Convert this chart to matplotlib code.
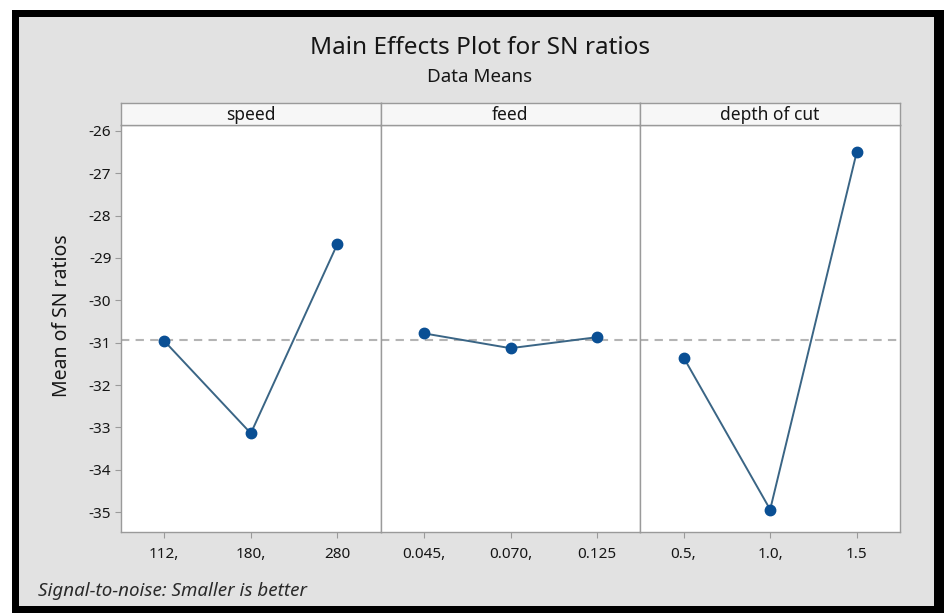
import matplotlib
matplotlib.use("Agg")
import matplotlib.pyplot as plt
from matplotlib.patches import Rectangle

plt.rcParams['font.family'] = ['Noto Sans', 'DejaVu Sans']

factors = ["speed", "feed", "depth of cut"]
level_labels = [["112,", "180,", "280"],
                ["0.045,", "0.070,", "0.125"],
                ["0.5,", "1.0,", "1.5"]]
speed_sn = [-30.96, -33.14, -28.67]
feed_sn = [-30.78, -31.13, -30.87]
depth_sn = [-31.35, -34.94, -26.50]
series = [speed_sn, feed_sn, depth_sn]
overall_mean = -30.93
yticks = [-26, -27, -28, -29, -30, -31, -32, -33, -34, -35]

W, H = 944, 613
fig = plt.figure(figsize=(W / 100, H / 100), dpi=100)
fig.patch.set_facecolor("white")

def fx(px):
    return px / W

def fy(py):
    return 1 - py / H

# black frame and gray background
fig.patches.append(Rectangle((fx(12), fy(613)), fx(944 - 12), 613 / H - 10 / H,
                             transform=fig.transFigure, facecolor="black",
                             edgecolor="none", zorder=-10))
fig.patches.append(Rectangle((fx(19), fy(606)), fx(934 - 19), (606 - 17) / H,
                             transform=fig.transFigure, facecolor="#e2e2e2",
                             edgecolor="none", zorder=-9))

left_px, right_px = 121, 900
top_px, bot_px = 125, 532
strip_top = 103
pw = (right_px - left_px) / 3

spine_col = "#9a9a9a"
txt_col = "#161616"
for i, (name, labels, vals) in enumerate(zip(factors, level_labels, series)):
    x0 = left_px + i * pw
    ax = fig.add_axes([fx(x0), fy(bot_px), fx(pw), (bot_px - top_px) / H])
    ax.set_facecolor("white")
    xs = list(range(1, len(vals) + 1))
    ax.axhline(overall_mean, color="#b4b4b4", linestyle=(0, (4, 3)), linewidth=1.5, zorder=1)
    ax.plot(xs, vals, color="#3a6585", linewidth=1.4, zorder=2)
    ax.plot(xs, vals, linestyle="none", marker="o", markersize=7.5,
            color="#0a4f94", markeredgecolor="#0a4f94", zorder=3)
    ax.set_xlim(0.5, 3.5)
    ax.set_ylim(-35.47, -25.86)
    ax.set_xticks(xs)
    ax.set_xticklabels(labels, fontsize=11, color=txt_col)
    ax.tick_params(axis="x", length=4, color=spine_col, pad=7)
    if i == 0:
        ax.set_yticks(yticks)
        ax.set_yticklabels([str(v) for v in yticks], fontsize=11, color=txt_col)
        ax.tick_params(axis="y", length=4, color=spine_col, pad=3)
    else:
        ax.set_yticks([])
    for s in ax.spines.values():
        s.set_color(spine_col)
        s.set_linewidth(1.0)
    # strip
    sax = fig.add_axes([fx(x0), fy(top_px), fx(pw), (top_px - strip_top) / H])
    sax.set_facecolor("#f7f7f7")
    sax.set_xticks([])
    sax.set_yticks([])
    for s in sax.spines.values():
        s.set_color(spine_col)
        s.set_linewidth(1.0)
    sax.text(0.5, 0.45, name, ha="center", va="center", fontsize=12.5,
             color=txt_col, transform=sax.transAxes)

fig.text(fx(480), fy(48), "Main Effects Plot for SN ratios", ha="center", va="center",
         fontsize=17.5, color=txt_col)
fig.text(fx(480), fy(77), "Data Means", ha="center", va="center",
         fontsize=13.5, color=txt_col)
fig.text(fx(62), fy(316), "Mean of SN ratios", ha="center", va="center",
         rotation=90, fontsize=14, color=txt_col)
fig.text(fx(38), fy(591), "Signal-to-noise: Smaller is better", ha="left", va="center",
         fontsize=13.5, style="italic", color="#2a2a2a")

fig.savefig("out.png", dpi=100)
